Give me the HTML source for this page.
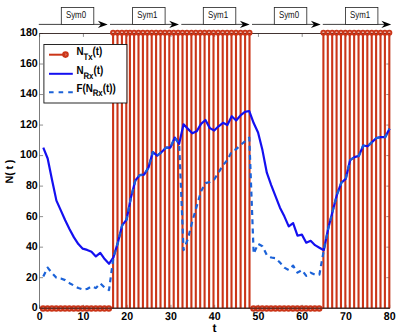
<!DOCTYPE html>
<html><head><meta charset="utf-8"><title>chart</title>
<style>html,body{margin:0;padding:0;background:#fff;}svg{display:block;text-rendering:geometricPrecision;}</style></head>
<body><svg width="399" height="335" viewBox="0 0 399 335">
<rect x="0" y="0" width="399" height="335" fill="#fff"/>
<rect x="39.65" y="33.5" width="350.05" height="274.70" fill="none" stroke="#444" stroke-width="0.7"/>
<path d="M39.65 308.20h3.4M389.7 308.20h-3.4M39.65 277.68h3.4M389.7 277.68h-3.4M39.65 247.16h3.4M389.7 247.16h-3.4M39.65 216.63h3.4M389.7 216.63h-3.4M39.65 186.11h3.4M389.7 186.11h-3.4M39.65 155.59h3.4M389.7 155.59h-3.4M39.65 125.07h3.4M389.7 125.07h-3.4M39.65 94.54h3.4M389.7 94.54h-3.4M39.65 64.02h3.4M389.7 64.02h-3.4M39.65 33.50h3.4M389.7 33.50h-3.4M39.65 308.2v-3.4M39.65 33.5v3.4M83.41 308.2v-3.4M83.41 33.5v3.4M127.16 308.2v-3.4M127.16 33.5v3.4M170.92 308.2v-3.4M170.92 33.5v3.4M214.68 308.2v-3.4M214.68 33.5v3.4M258.43 308.2v-3.4M258.43 33.5v3.4M302.19 308.2v-3.4M302.19 33.5v3.4M345.94 308.2v-3.4M345.94 33.5v3.4M389.70 308.2v-3.4M389.70 33.5v3.4" stroke="#444" stroke-width="0.6" fill="none"/>
<path d="M113.10 308.20V33.50M117.50 308.20V33.50M121.90 308.20V33.50M126.30 308.20V33.50M129.90 308.20V33.50M134.10 308.20V33.50M138.50 308.20V33.50M142.90 308.20V33.50M147.30 308.20V33.50M151.70 308.20V33.50M156.10 308.20V33.50M160.50 308.20V33.50M164.90 308.20V33.50M169.30 308.20V33.50M173.70 308.20V33.50M178.10 308.20V33.50M182.50 308.20V33.50M186.90 308.20V33.50M191.40 308.20V33.50M195.80 308.20V33.50M200.20 308.20V33.50M204.60 308.20V33.50M209.10 308.20V33.50M213.50 308.20V33.50M218.10 308.20V33.50M222.70 308.20V33.50M227.10 308.20V33.50M231.50 308.20V33.50M236.00 308.20V33.50M240.60 308.20V33.50M245.10 308.20V33.50M249.50 308.20V33.50M323.40 308.20V33.50M327.79 308.20V33.50M332.19 308.20V33.50M336.58 308.20V33.50M340.97 308.20V33.50M345.36 308.20V33.50M349.76 308.20V33.50M354.15 308.20V33.50M358.54 308.20V33.50M362.94 308.20V33.50M367.33 308.20V33.50M371.72 308.20V33.50M376.12 308.20V33.50M380.51 308.20V33.50M384.90 308.20V33.50M389.29 308.20V33.50" stroke="#cb3518" stroke-width="2.1" fill="none"/>
<path d="M39.65 308.2H389.7M39.65 33.5H389.7" stroke="#2a1512" stroke-width="0.7"/>
<circle cx="43.08" cy="308.50" r="2.2" fill="#cb3518" fill-opacity="0.4" stroke="#cb3518" stroke-width="2.1"/>
<circle cx="47.47" cy="308.50" r="2.2" fill="#cb3518" fill-opacity="0.4" stroke="#cb3518" stroke-width="2.1"/>
<circle cx="51.85" cy="308.50" r="2.2" fill="#cb3518" fill-opacity="0.4" stroke="#cb3518" stroke-width="2.1"/>
<circle cx="56.23" cy="308.50" r="2.2" fill="#cb3518" fill-opacity="0.4" stroke="#cb3518" stroke-width="2.1"/>
<circle cx="60.62" cy="308.50" r="2.2" fill="#cb3518" fill-opacity="0.4" stroke="#cb3518" stroke-width="2.1"/>
<circle cx="65.00" cy="308.50" r="2.2" fill="#cb3518" fill-opacity="0.4" stroke="#cb3518" stroke-width="2.1"/>
<circle cx="69.38" cy="308.50" r="2.2" fill="#cb3518" fill-opacity="0.4" stroke="#cb3518" stroke-width="2.1"/>
<circle cx="73.76" cy="308.50" r="2.2" fill="#cb3518" fill-opacity="0.4" stroke="#cb3518" stroke-width="2.1"/>
<circle cx="78.15" cy="308.50" r="2.2" fill="#cb3518" fill-opacity="0.4" stroke="#cb3518" stroke-width="2.1"/>
<circle cx="82.53" cy="308.50" r="2.2" fill="#cb3518" fill-opacity="0.4" stroke="#cb3518" stroke-width="2.1"/>
<circle cx="86.91" cy="308.50" r="2.2" fill="#cb3518" fill-opacity="0.4" stroke="#cb3518" stroke-width="2.1"/>
<circle cx="91.30" cy="308.50" r="2.2" fill="#cb3518" fill-opacity="0.4" stroke="#cb3518" stroke-width="2.1"/>
<circle cx="95.68" cy="308.50" r="2.2" fill="#cb3518" fill-opacity="0.4" stroke="#cb3518" stroke-width="2.1"/>
<circle cx="100.06" cy="308.50" r="2.2" fill="#cb3518" fill-opacity="0.4" stroke="#cb3518" stroke-width="2.1"/>
<circle cx="104.45" cy="308.50" r="2.2" fill="#cb3518" fill-opacity="0.4" stroke="#cb3518" stroke-width="2.1"/>
<circle cx="108.83" cy="308.50" r="2.2" fill="#cb3518" fill-opacity="0.4" stroke="#cb3518" stroke-width="2.1"/>
<circle cx="113.10" cy="32.75" r="2.1" fill="#cb3518" fill-opacity="0.4" stroke="#cb3518" stroke-width="1.9"/>
<circle cx="117.50" cy="32.75" r="2.1" fill="#cb3518" fill-opacity="0.4" stroke="#cb3518" stroke-width="1.9"/>
<circle cx="121.90" cy="32.75" r="2.1" fill="#cb3518" fill-opacity="0.4" stroke="#cb3518" stroke-width="1.9"/>
<circle cx="126.30" cy="32.75" r="2.1" fill="#cb3518" fill-opacity="0.4" stroke="#cb3518" stroke-width="1.9"/>
<circle cx="129.90" cy="32.75" r="2.1" fill="#cb3518" fill-opacity="0.4" stroke="#cb3518" stroke-width="1.9"/>
<circle cx="134.10" cy="32.75" r="2.1" fill="#cb3518" fill-opacity="0.4" stroke="#cb3518" stroke-width="1.9"/>
<circle cx="138.50" cy="32.75" r="2.1" fill="#cb3518" fill-opacity="0.4" stroke="#cb3518" stroke-width="1.9"/>
<circle cx="142.90" cy="32.75" r="2.1" fill="#cb3518" fill-opacity="0.4" stroke="#cb3518" stroke-width="1.9"/>
<circle cx="147.30" cy="32.75" r="2.1" fill="#cb3518" fill-opacity="0.4" stroke="#cb3518" stroke-width="1.9"/>
<circle cx="151.70" cy="32.75" r="2.1" fill="#cb3518" fill-opacity="0.4" stroke="#cb3518" stroke-width="1.9"/>
<circle cx="156.10" cy="32.75" r="2.1" fill="#cb3518" fill-opacity="0.4" stroke="#cb3518" stroke-width="1.9"/>
<circle cx="160.50" cy="32.75" r="2.1" fill="#cb3518" fill-opacity="0.4" stroke="#cb3518" stroke-width="1.9"/>
<circle cx="164.90" cy="32.75" r="2.1" fill="#cb3518" fill-opacity="0.4" stroke="#cb3518" stroke-width="1.9"/>
<circle cx="169.30" cy="32.75" r="2.1" fill="#cb3518" fill-opacity="0.4" stroke="#cb3518" stroke-width="1.9"/>
<circle cx="173.70" cy="32.75" r="2.1" fill="#cb3518" fill-opacity="0.4" stroke="#cb3518" stroke-width="1.9"/>
<circle cx="178.10" cy="32.75" r="2.1" fill="#cb3518" fill-opacity="0.4" stroke="#cb3518" stroke-width="1.9"/>
<circle cx="182.50" cy="32.75" r="2.1" fill="#cb3518" fill-opacity="0.4" stroke="#cb3518" stroke-width="1.9"/>
<circle cx="186.90" cy="32.75" r="2.1" fill="#cb3518" fill-opacity="0.4" stroke="#cb3518" stroke-width="1.9"/>
<circle cx="191.40" cy="32.75" r="2.1" fill="#cb3518" fill-opacity="0.4" stroke="#cb3518" stroke-width="1.9"/>
<circle cx="195.80" cy="32.75" r="2.1" fill="#cb3518" fill-opacity="0.4" stroke="#cb3518" stroke-width="1.9"/>
<circle cx="200.20" cy="32.75" r="2.1" fill="#cb3518" fill-opacity="0.4" stroke="#cb3518" stroke-width="1.9"/>
<circle cx="204.60" cy="32.75" r="2.1" fill="#cb3518" fill-opacity="0.4" stroke="#cb3518" stroke-width="1.9"/>
<circle cx="209.10" cy="32.75" r="2.1" fill="#cb3518" fill-opacity="0.4" stroke="#cb3518" stroke-width="1.9"/>
<circle cx="213.50" cy="32.75" r="2.1" fill="#cb3518" fill-opacity="0.4" stroke="#cb3518" stroke-width="1.9"/>
<circle cx="218.10" cy="32.75" r="2.1" fill="#cb3518" fill-opacity="0.4" stroke="#cb3518" stroke-width="1.9"/>
<circle cx="222.70" cy="32.75" r="2.1" fill="#cb3518" fill-opacity="0.4" stroke="#cb3518" stroke-width="1.9"/>
<circle cx="227.10" cy="32.75" r="2.1" fill="#cb3518" fill-opacity="0.4" stroke="#cb3518" stroke-width="1.9"/>
<circle cx="231.50" cy="32.75" r="2.1" fill="#cb3518" fill-opacity="0.4" stroke="#cb3518" stroke-width="1.9"/>
<circle cx="236.00" cy="32.75" r="2.1" fill="#cb3518" fill-opacity="0.4" stroke="#cb3518" stroke-width="1.9"/>
<circle cx="240.60" cy="32.75" r="2.1" fill="#cb3518" fill-opacity="0.4" stroke="#cb3518" stroke-width="1.9"/>
<circle cx="245.10" cy="32.75" r="2.1" fill="#cb3518" fill-opacity="0.4" stroke="#cb3518" stroke-width="1.9"/>
<circle cx="249.50" cy="32.75" r="2.1" fill="#cb3518" fill-opacity="0.4" stroke="#cb3518" stroke-width="1.9"/>
<circle cx="253.47" cy="308.50" r="2.2" fill="#cb3518" fill-opacity="0.4" stroke="#cb3518" stroke-width="2.1"/>
<circle cx="257.85" cy="308.50" r="2.2" fill="#cb3518" fill-opacity="0.4" stroke="#cb3518" stroke-width="2.1"/>
<circle cx="262.23" cy="308.50" r="2.2" fill="#cb3518" fill-opacity="0.4" stroke="#cb3518" stroke-width="2.1"/>
<circle cx="266.62" cy="308.50" r="2.2" fill="#cb3518" fill-opacity="0.4" stroke="#cb3518" stroke-width="2.1"/>
<circle cx="271.00" cy="308.50" r="2.2" fill="#cb3518" fill-opacity="0.4" stroke="#cb3518" stroke-width="2.1"/>
<circle cx="275.38" cy="308.50" r="2.2" fill="#cb3518" fill-opacity="0.4" stroke="#cb3518" stroke-width="2.1"/>
<circle cx="279.76" cy="308.50" r="2.2" fill="#cb3518" fill-opacity="0.4" stroke="#cb3518" stroke-width="2.1"/>
<circle cx="284.15" cy="308.50" r="2.2" fill="#cb3518" fill-opacity="0.4" stroke="#cb3518" stroke-width="2.1"/>
<circle cx="288.53" cy="308.50" r="2.2" fill="#cb3518" fill-opacity="0.4" stroke="#cb3518" stroke-width="2.1"/>
<circle cx="292.91" cy="308.50" r="2.2" fill="#cb3518" fill-opacity="0.4" stroke="#cb3518" stroke-width="2.1"/>
<circle cx="297.30" cy="308.50" r="2.2" fill="#cb3518" fill-opacity="0.4" stroke="#cb3518" stroke-width="2.1"/>
<circle cx="301.68" cy="308.50" r="2.2" fill="#cb3518" fill-opacity="0.4" stroke="#cb3518" stroke-width="2.1"/>
<circle cx="306.06" cy="308.50" r="2.2" fill="#cb3518" fill-opacity="0.4" stroke="#cb3518" stroke-width="2.1"/>
<circle cx="310.45" cy="308.50" r="2.2" fill="#cb3518" fill-opacity="0.4" stroke="#cb3518" stroke-width="2.1"/>
<circle cx="314.83" cy="308.50" r="2.2" fill="#cb3518" fill-opacity="0.4" stroke="#cb3518" stroke-width="2.1"/>
<circle cx="319.21" cy="308.50" r="2.2" fill="#cb3518" fill-opacity="0.4" stroke="#cb3518" stroke-width="2.1"/>
<circle cx="323.40" cy="32.75" r="2.1" fill="#cb3518" fill-opacity="0.4" stroke="#cb3518" stroke-width="1.9"/>
<circle cx="327.79" cy="32.75" r="2.1" fill="#cb3518" fill-opacity="0.4" stroke="#cb3518" stroke-width="1.9"/>
<circle cx="332.19" cy="32.75" r="2.1" fill="#cb3518" fill-opacity="0.4" stroke="#cb3518" stroke-width="1.9"/>
<circle cx="336.58" cy="32.75" r="2.1" fill="#cb3518" fill-opacity="0.4" stroke="#cb3518" stroke-width="1.9"/>
<circle cx="340.97" cy="32.75" r="2.1" fill="#cb3518" fill-opacity="0.4" stroke="#cb3518" stroke-width="1.9"/>
<circle cx="345.36" cy="32.75" r="2.1" fill="#cb3518" fill-opacity="0.4" stroke="#cb3518" stroke-width="1.9"/>
<circle cx="349.76" cy="32.75" r="2.1" fill="#cb3518" fill-opacity="0.4" stroke="#cb3518" stroke-width="1.9"/>
<circle cx="354.15" cy="32.75" r="2.1" fill="#cb3518" fill-opacity="0.4" stroke="#cb3518" stroke-width="1.9"/>
<circle cx="358.54" cy="32.75" r="2.1" fill="#cb3518" fill-opacity="0.4" stroke="#cb3518" stroke-width="1.9"/>
<circle cx="362.94" cy="32.75" r="2.1" fill="#cb3518" fill-opacity="0.4" stroke="#cb3518" stroke-width="1.9"/>
<circle cx="367.33" cy="32.75" r="2.1" fill="#cb3518" fill-opacity="0.4" stroke="#cb3518" stroke-width="1.9"/>
<circle cx="371.72" cy="32.75" r="2.1" fill="#cb3518" fill-opacity="0.4" stroke="#cb3518" stroke-width="1.9"/>
<circle cx="376.12" cy="32.75" r="2.1" fill="#cb3518" fill-opacity="0.4" stroke="#cb3518" stroke-width="1.9"/>
<circle cx="380.51" cy="32.75" r="2.1" fill="#cb3518" fill-opacity="0.4" stroke="#cb3518" stroke-width="1.9"/>
<circle cx="384.90" cy="32.75" r="2.1" fill="#cb3518" fill-opacity="0.4" stroke="#cb3518" stroke-width="1.9"/>
<circle cx="389.29" cy="32.75" r="2.1" fill="#cb3518" fill-opacity="0.4" stroke="#cb3518" stroke-width="1.9"/>
<path d="M39.65 308.2H389.7" stroke="#2a1512" stroke-width="0.7"/>
<polyline points="43.28,147.65 47.67,158.49 52.05,180.01 56.43,200.61 60.81,210.38 65.20,220.30 69.58,229.15 73.96,237.39 78.35,244.10 82.73,248.68 87.11,249.90 91.50,251.73 95.88,256.46 100.26,252.95 104.65,259.06 109.03,263.79 113.41,257.38 117.79,242.88 122.18,225.33 126.56,219.69 130.94,197.56 135.33,180.46 139.71,175.12 144.09,174.67 148.47,167.65 152.86,152.08 157.24,155.59 161.62,152.08 166.01,147.65 170.39,147.65 174.77,137.58 179.16,143.84 183.54,124.30 187.92,128.88 192.31,133.31 196.69,131.32 201.07,123.85 205.45,120.03 209.84,128.12 214.22,130.56 218.60,126.29 222.99,122.78 227.37,125.07 231.75,116.22 236.14,120.49 240.52,115.45 244.90,111.94 249.28,111.03 253.67,123.08 258.05,132.54 262.43,150.09 266.82,172.68 271.20,185.04 275.58,196.34 279.96,207.63 284.35,216.33 288.73,226.40 293.11,223.04 297.50,235.71 301.88,234.64 306.26,242.73 310.65,240.75 315.03,245.17 319.41,247.77 323.79,250.21 328.18,228.84 332.56,211.44 336.94,194.66 341.33,182.75 345.71,178.94 350.09,160.17 354.48,157.12 358.86,155.89 363.24,145.52 367.62,146.28 372.01,142.16 376.39,138.04 380.77,137.12 385.16,137.12 389.54,128.73" fill="none" stroke="#1410f0" stroke-width="2.2" stroke-linejoin="round"/>
<polyline points="43.28,276.46 47.67,267.61 52.05,273.10 56.43,277.68 60.81,278.44 65.20,280.12 69.58,283.17 73.96,285.61 78.35,288.06 82.73,289.43 87.11,288.97 91.50,286.38 95.88,288.06 100.26,283.32 104.65,287.60 109.03,290.04 113.41,257.38 117.79,242.88 122.18,225.33 126.56,219.69 130.94,197.56 135.33,180.46 139.71,175.12 144.09,174.67 148.47,167.65 152.86,152.08 157.24,155.59 161.62,152.08 166.01,147.65 170.39,147.65 174.77,137.58 179.16,143.84 183.54,250.06 187.92,238.91 192.31,221.36 196.69,206.41 201.07,191.30 205.45,183.06 209.84,181.99 214.22,179.55 218.60,172.38 222.99,165.20 227.37,160.17 231.75,151.32 236.14,149.33 240.52,145.06 244.90,141.40 249.28,137.58 253.67,253.87 258.05,243.80 262.43,246.24 266.82,255.09 271.20,257.53 275.58,258.14 279.96,262.57 284.35,267.61 288.73,270.05 293.11,265.62 297.50,272.64 301.88,270.05 306.26,275.85 310.65,272.64 315.03,274.63 319.41,274.63 323.79,250.21 328.18,228.84 332.56,211.44 336.94,194.66 341.33,182.75 345.71,178.94 350.09,160.17 354.48,157.12 358.86,155.89 363.24,145.52 367.62,146.28 372.01,142.16 376.39,138.04 380.77,137.12 385.16,137.12 389.54,128.73" fill="none" stroke="#1b62d8" stroke-width="2.2" stroke-dasharray="5 4.2" stroke-linejoin="round"/>
<rect x="43.9" y="44.5" width="83" height="58.5" fill="#fff" stroke="#111" stroke-width="0.9"/>
<path d="M49 54.7H65.5" stroke="#cb3518" stroke-width="2"/><circle cx="65.5" cy="54.6" r="2.2" fill="#cb3518" fill-opacity="0.55" stroke="#cb3518" stroke-width="2.2"/>
<path d="M49 73.8H72.8" stroke="#1410f0" stroke-width="2"/>
<path d="M49 92.2H72.8" stroke="#1b62d8" stroke-width="2" stroke-dasharray="4.6 5"/>
<text transform="translate(76.4 55.4) scale(0.83 1)" font-family="Liberation Sans, sans-serif" font-weight="bold" fill="#000" font-size="11.8">N<tspan dy="4.2" font-size="9.4">Tx</tspan><tspan dy="-4.2">(t)</tspan></text>
<text transform="translate(76.4 74.3) scale(0.83 1)" font-family="Liberation Sans, sans-serif" font-weight="bold" fill="#000" font-size="11.8">N<tspan dy="4.2" font-size="9.4">Rx</tspan><tspan dy="-4.2">(t)</tspan></text>
<text transform="translate(76.4 92.2) scale(0.83 1)" font-family="Liberation Sans, sans-serif" font-weight="bold" fill="#000" font-size="11.8">F(N<tspan dy="4.2" font-size="9.4">Rx</tspan><tspan dy="-4.2">(t))</tspan></text>
<text transform="translate(37.7 311.10) scale(0.93 1)" text-anchor="end" font-family="Liberation Sans, sans-serif" font-weight="bold" fill="#000" font-size="11.4">0</text>
<text transform="translate(37.7 280.58) scale(0.93 1)" text-anchor="end" font-family="Liberation Sans, sans-serif" font-weight="bold" fill="#000" font-size="11.4">20</text>
<text transform="translate(37.7 250.06) scale(0.93 1)" text-anchor="end" font-family="Liberation Sans, sans-serif" font-weight="bold" fill="#000" font-size="11.4">40</text>
<text transform="translate(37.7 219.53) scale(0.93 1)" text-anchor="end" font-family="Liberation Sans, sans-serif" font-weight="bold" fill="#000" font-size="11.4">60</text>
<text transform="translate(37.7 189.01) scale(0.93 1)" text-anchor="end" font-family="Liberation Sans, sans-serif" font-weight="bold" fill="#000" font-size="11.4">80</text>
<text transform="translate(37.7 158.49) scale(0.93 1)" text-anchor="end" font-family="Liberation Sans, sans-serif" font-weight="bold" fill="#000" font-size="11.4">100</text>
<text transform="translate(37.7 127.97) scale(0.93 1)" text-anchor="end" font-family="Liberation Sans, sans-serif" font-weight="bold" fill="#000" font-size="11.4">120</text>
<text transform="translate(37.7 97.44) scale(0.93 1)" text-anchor="end" font-family="Liberation Sans, sans-serif" font-weight="bold" fill="#000" font-size="11.4">140</text>
<text transform="translate(37.7 66.92) scale(0.93 1)" text-anchor="end" font-family="Liberation Sans, sans-serif" font-weight="bold" fill="#000" font-size="11.4">160</text>
<text transform="translate(37.7 36.40) scale(0.93 1)" text-anchor="end" font-family="Liberation Sans, sans-serif" font-weight="bold" fill="#000" font-size="11.4">180</text>
<text transform="translate(39.65 320.1) scale(0.93 1)" text-anchor="middle" font-family="Liberation Sans, sans-serif" font-weight="bold" fill="#000" font-size="11.4">0</text>
<text transform="translate(83.41 320.1) scale(0.93 1)" text-anchor="middle" font-family="Liberation Sans, sans-serif" font-weight="bold" fill="#000" font-size="11.4">10</text>
<text transform="translate(127.16 320.1) scale(0.93 1)" text-anchor="middle" font-family="Liberation Sans, sans-serif" font-weight="bold" fill="#000" font-size="11.4">20</text>
<text transform="translate(170.92 320.1) scale(0.93 1)" text-anchor="middle" font-family="Liberation Sans, sans-serif" font-weight="bold" fill="#000" font-size="11.4">30</text>
<text transform="translate(214.68 320.1) scale(0.93 1)" text-anchor="middle" font-family="Liberation Sans, sans-serif" font-weight="bold" fill="#000" font-size="11.4">40</text>
<text transform="translate(258.43 320.1) scale(0.93 1)" text-anchor="middle" font-family="Liberation Sans, sans-serif" font-weight="bold" fill="#000" font-size="11.4">50</text>
<text transform="translate(302.19 320.1) scale(0.93 1)" text-anchor="middle" font-family="Liberation Sans, sans-serif" font-weight="bold" fill="#000" font-size="11.4">60</text>
<text transform="translate(345.94 320.1) scale(0.93 1)" text-anchor="middle" font-family="Liberation Sans, sans-serif" font-weight="bold" fill="#000" font-size="11.4">70</text>
<text transform="translate(389.70 320.1) scale(0.93 1)" text-anchor="middle" font-family="Liberation Sans, sans-serif" font-weight="bold" fill="#000" font-size="11.4">80</text>
<text x="214.6" y="331.6" text-anchor="middle" font-family="Liberation Sans, sans-serif" font-weight="bold" fill="#000" font-size="12">t</text>
<text transform="translate(12.9 171.6) rotate(-90)" text-anchor="middle" font-family="Liberation Sans, sans-serif" font-weight="bold" fill="#000" font-size="10.9" word-spacing="-0.5">N( t )</text>
<path d="M38.8 24.4H102.7" stroke="#111" stroke-width="0.8"/>
<path d="M107.7 24.4L97.9 20.7L101.0 24.4L97.9 28.1Z" fill="#000"/>
<rect x="61.3" y="7.5" width="32.5" height="16.9" fill="#fff" stroke="#222" stroke-width="0.8"/>
<text transform="translate(65.89999999999999 18.2) scale(0.8 1)" font-family="Liberation Sans, sans-serif" fill="#111" font-size="9.9">Sym0</text>
<path d="M110 24.4H174" stroke="#111" stroke-width="0.8"/>
<path d="M179 24.4L169.2 20.7L172.3 24.4L169.2 28.1Z" fill="#000"/>
<rect x="132.6" y="7.5" width="32.5" height="16.9" fill="#fff" stroke="#222" stroke-width="0.8"/>
<text transform="translate(137.2 18.2) scale(0.8 1)" font-family="Liberation Sans, sans-serif" fill="#111" font-size="9.9">Sym1</text>
<path d="M181.3 24.4H244.7" stroke="#111" stroke-width="0.8"/>
<path d="M249.7 24.4L239.89999999999998 20.7L243.0 24.4L239.89999999999998 28.1Z" fill="#000"/>
<rect x="203.3" y="7.5" width="32.5" height="16.9" fill="#fff" stroke="#222" stroke-width="0.8"/>
<text transform="translate(207.9 18.2) scale(0.8 1)" font-family="Liberation Sans, sans-serif" fill="#111" font-size="9.9">Sym1</text>
<path d="M252 24.4H315.7" stroke="#111" stroke-width="0.8"/>
<path d="M320.7 24.4L310.9 20.7L314.0 24.4L310.9 28.1Z" fill="#000"/>
<rect x="274.3" y="7.5" width="32.5" height="16.9" fill="#fff" stroke="#222" stroke-width="0.8"/>
<text transform="translate(278.90000000000003 18.2) scale(0.8 1)" font-family="Liberation Sans, sans-serif" fill="#111" font-size="9.9">Sym0</text>
<path d="M322.8 24.4H386.2" stroke="#111" stroke-width="0.8"/>
<path d="M391.2 24.4L381.4 20.7L384.5 24.4L381.4 28.1Z" fill="#000"/>
<rect x="345.4" y="7.5" width="32.5" height="16.9" fill="#fff" stroke="#222" stroke-width="0.8"/>
<text transform="translate(350.0 18.2) scale(0.8 1)" font-family="Liberation Sans, sans-serif" fill="#111" font-size="9.9">Sym1</text>
</svg></body></html>
